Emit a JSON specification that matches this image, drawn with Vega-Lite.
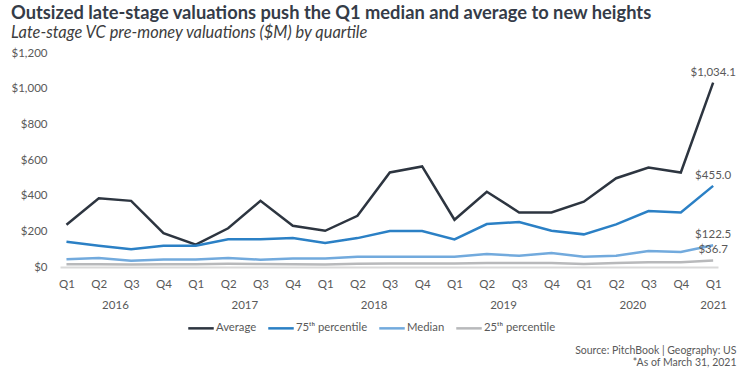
{
  "$schema": "https://vega.github.io/schema/vega-lite/v6.json",
  "width": 658,
  "height": 214,
  "padding": {"left": 11, "top": 4, "right": 10, "bottom": 5},
  "background": "white",
  "title": {
    "text": "Outsized late-stage valuations push the Q1 median and average to new heights",
    "subtitle": "Late-stage VC pre-money valuations ($M) by quartile",
    "anchor": "start",
    "frame": "bounds",
    "font": "Lato",
    "fontSize": 18.3,
    "fontWeight": "bold",
    "color": "#353c48",
    "subtitleFont": "Lato",
    "subtitleFontSize": 16.4,
    "subtitleFontStyle": "italic",
    "subtitleColor": "#3d3d3d",
    "subtitlePadding": 1,
    "offset": 5
  },
  "config": {
    "view": {"stroke": null},
    "axis": {"labelFont": "Lato", "labelFontSize": 11.5, "labelColor": "#595959", "grid": false, "ticks": false, "titleFont": "Lato", "labelOverlap": false},
    "legend": {"labelFont": "Lato", "labelFontSize": 11.3, "labelColor": "#595959"}
  },
  "data": {
    "values": [
      {"t": 0, "Average": 237, "p75": 142, "Median": 43, "p25": 15},
      {"t": 1, "Average": 385, "p75": 119, "Median": 50, "p25": 16},
      {"t": 2, "Average": 371, "p75": 99, "Median": 35, "p25": 14},
      {"t": 3, "Average": 190, "p75": 119, "Median": 42, "p25": 16},
      {"t": 4, "Average": 125, "p75": 119, "Median": 42, "p25": 16},
      {"t": 5, "Average": 217, "p75": 155, "Median": 50, "p25": 18},
      {"t": 6, "Average": 371, "p75": 155, "Median": 41, "p25": 17},
      {"t": 7, "Average": 231, "p75": 162, "Median": 47, "p25": 15},
      {"t": 8, "Average": 203, "p75": 134, "Median": 47, "p25": 14},
      {"t": 9, "Average": 287, "p75": 162, "Median": 58, "p25": 18},
      {"t": 10, "Average": 530, "p75": 202, "Median": 58, "p25": 20},
      {"t": 11, "Average": 564, "p75": 202, "Median": 58, "p25": 20},
      {"t": 12, "Average": 265, "p75": 155, "Median": 58, "p25": 19},
      {"t": 13, "Average": 422, "p75": 241, "Median": 73, "p25": 22},
      {"t": 14, "Average": 306, "p75": 252, "Median": 63, "p25": 22},
      {"t": 15, "Average": 306, "p75": 203, "Median": 78, "p25": 23},
      {"t": 16, "Average": 366, "p75": 183, "Median": 58, "p25": 17},
      {"t": 17, "Average": 498, "p75": 239, "Median": 63, "p25": 22},
      {"t": 18, "Average": 558, "p75": 314, "Median": 90, "p25": 27},
      {"t": 19, "Average": 530, "p75": 306, "Median": 84, "p25": 27},
      {"t": 20, "Average": 1034.1, "p75": 455.0, "Median": 122.5, "p25": 36.7}
    ]
  },
  "transform": [
    {"fold": ["Average", "p75", "Median", "p25"], "as": ["series", "value"]}
  ],
  "encoding": {
    "y": {
      "field": "value", "type": "quantitative",
      "scale": {"domain": [0, 1200], "nice": false},
      "axis": {"title": null, "values": [0,200,400,600,800,1000,1200], "format": "$,.0f", "domain": false, "labelPadding": 13, "labelOverlap": false, "labelBound": false}
    }
  },
  "resolve": {"axis": {"x": "independent"}},
  "layer": [
    {
      "mark": {"type": "line", "strokeWidth": 2.5, "strokeCap": "butt", "strokeJoin": "miter"},
      "encoding": {
        "x": {
          "field": "t", "type": "quantitative",
          "scale": {"domain": [-0.2, 20.15], "nice": false, "zero": false},
          "axis": {
            "orient": "bottom", "title": null, "values": [0,1,2,3,4,5,6,7,8,9,10,11,12,13,14,15,16,17,18,19,20],
            "labelExpr": "'Q' + (datum.value % 4 + 1)",
            "labelPadding": 11, "domainColor": "#d9d9d9", "domainWidth": 2, "labelFlush": false, "labelOverlap": false
          }
        },
        "color": {
          "field": "series", "type": "nominal",
          "scale": {"domain": ["Average", "p75", "Median", "p25"], "range": ["#2d3540", "#2b80c5", "#72aadd", "#b8b9bb"]},
          "legend": {
            "title": null, "orient": "none", "direction": "horizontal",
            "legendX": 127, "legendY": 261,
            "symbolType": "stroke", "symbolSize": 650, "symbolStrokeWidth": 2.5,
            "labelOffset": 1, "columnPadding": 6,
            "labelExpr": "datum.label == 'p75' ? '75ᵗʰ percentile' : datum.label == 'p25' ? '25ᵗʰ percentile' : datum.label"
          }
        }
      }
    },
    {
      "transform": [{"filter": "datum.t == 20"}],
      "mark": {"type": "text", "font": "Lato", "fontSize": 11.5, "color": "#595959", "align": "center", "baseline": "bottom", "dy": -5},
      "encoding": {
        "x": {
          "field": "t", "type": "quantitative",
          "axis": {
            "orient": "bottom", "values": [1.5, 5.5, 9.5, 13.5, 17.5, 20],
            "labelExpr": "datum.value == 20 ? '2021' : '' + (2016 + floor(datum.value / 4))",
            "labelPadding": 32, "domain": false, "labelFlush": false, "labelOverlap": false,
            "title": ["Source: PitchBook | Geography: US", "*As of March 31, 2021"],
            "titleFont": "Lato", "titleFontSize": 10.5, "titleFontWeight": "normal", "titleColor": "#595959",
            "titleAnchor": "end", "titleAlign": "right", "titleBaseline": "top",
            "titleX": 676, "titleY": 78, "titleLineHeight": 12.5
          }
        },
        "text": {"field": "value", "type": "quantitative", "format": "$,.1f"}
      }
    }
  ]
}
